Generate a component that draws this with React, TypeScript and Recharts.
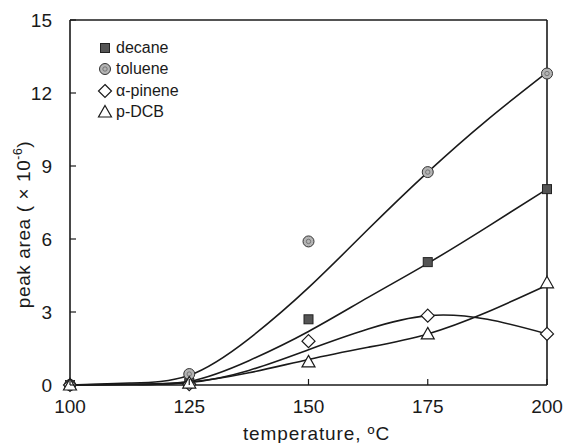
import { ComposedChart, Line, Scatter, XAxis, YAxis, ReferenceLine } from "recharts"

// measured points
const temps = [100, 125, 150, 175, 200]
const decane = [0, 0.08, 2.7, 5.05, 8.05]
const toluene = [0, 0.45, 5.9, 8.75, 12.8]
const pinene = [0, 0.03, 1.8, 2.85, 2.1]
const pdcb = [0, 0.08, 0.95, 2.1, 4.2]

// fitted curves
const fitTemps = [100, 112.5, 125, 137.5, 150, 162.5, 175, 187.5, 200]
const decaneFit = [0, 0.03, 0.15, 1.0, 2.2, 3.6, 5.0, 6.5, 8.05]
const tolueneFit = [0, 0.08, 0.4, 1.9, 4.0, 6.4, 8.75, 10.9, 12.85]
const pineneFit = [0, 0.02, 0.1, 0.6, 1.45, 2.3, 2.85, 2.7, 2.1]
const pdcbFit = [0, 0.02, 0.12, 0.5, 1.05, 1.55, 2.1, 3.0, 4.1]

const xTicks = [100, 125, 150, 175, 200]
const yTicks = [0, 3, 6, 9, 12, 15]

const toXY = (xs: number[], ys: number[]) => xs.map((x, i) => ({ x, y: ys[i] }))

const FONT = "'Liberation Sans', Arial, sans-serif"
const INK = "#1a1a1a"

const SquareMark = ({ cx, cy }: any) => (
  <rect x={cx - 4.5} y={cy - 4.5} width={9} height={9} fill="#555" stroke="#222" strokeWidth={1} />
)
const CircleMark = ({ cx, cy }: any) => (
  <g>
    <circle cx={cx} cy={cy} r={5.5} fill="#b4b4b4" stroke="#333" strokeWidth={1} />
    <circle cx={cx} cy={cy} r={2.2} fill="none" stroke="#666" strokeWidth={0.8} />
  </g>
)
const DiamondMark = ({ cx, cy }: any) => (
  <path d={`M${cx},${cy - 6.5}L${cx + 6.5},${cy}L${cx},${cy + 6.5}L${cx - 6.5},${cy}Z`} fill="#fff" stroke={INK} strokeWidth={1.2} />
)
const TriangleMark = ({ cx, cy }: any) => (
  <path d={`M${cx},${cy - 6.5}L${cx + 6.5},${cy + 5}L${cx - 6.5},${cy + 5}Z`} fill="#fff" stroke={INK} strokeWidth={1.2} />
)

const legendItems = [
  { name: "decane", Mark: SquareMark },
  { name: "toluene", Mark: CircleMark },
  { name: "α-pinene", Mark: DiamondMark },
  { name: "p-DCB", Mark: TriangleMark },
]

const XTick = ({ x, y, payload }: any) => (
  <g>
    <line x1={x} x2={x} y1={y - 13} y2={y - 19} stroke={INK} strokeWidth={1.2} />
    <text x={x} y={y + 15} textAnchor="middle" fontSize={19} fontFamily={FONT} fill={INK}>
      {payload.value}
    </text>
  </g>
)

const YTick = ({ x, y, payload }: any) => (
  <g>
    <line x1={x + 18} x2={x + 24} y1={y} y2={y} stroke={INK} strokeWidth={1.2} />
    <text x={x} y={y + 7} textAnchor="end" fontSize={19} fontFamily={FONT} fill={INK}>
      {payload.value}
    </text>
  </g>
)

const YLabel = ({ viewBox }: any) => {
  const cx = 24
  const cy = viewBox.y + viewBox.height / 2 + 22
  return (
    <text x={cx} y={cy} transform={`rotate(-90 ${cx} ${cy})`} textAnchor="middle" fontSize={19} letterSpacing={0.6} fontFamily={FONT} fill={INK} dy={6}>
      peak area ( × 10<tspan dy={-8} fontSize={12}>-6</tspan><tspan dy={8}>)</tspan>
    </text>
  )
}

const XLabel = ({ viewBox }: any) => (
  <text x={viewBox.x + viewBox.width / 2 + 8} y={440} textAnchor="middle" fontSize={19} letterSpacing={0.9} fontFamily={FONT} fill={INK}>
    temperature, ºC
  </text>
)

export default function App() {
  return (
    <div style={{ position: "relative", width: 564, height: 443, background: "#fff" }}>
      <style>{"body{margin:0}"}</style>
      <ComposedChart width={564} height={443} margin={{ top: 20, right: 17, left: 18, bottom: 28 }}>
        <XAxis
          dataKey="x"
          type="number"
          domain={[100, 200]}
          ticks={xTicks}
          tickLine={false}
          tickSize={0}
          tickMargin={13}
          height={30}
          tick={<XTick />}
          axisLine={{ stroke: INK, strokeWidth: 1.6 }}
          label={<XLabel />}
        />
        <YAxis
          dataKey="y"
          type="number"
          domain={[0, 15]}
          ticks={yTicks}
          tickLine={false}
          tickSize={0}
          tickMargin={18}
          width={52}
          tick={<YTick />}
          axisLine={{ stroke: INK, strokeWidth: 1.6 }}
          label={<YLabel />}
        />
        <ReferenceLine y={15} stroke={INK} strokeWidth={1.6} />
        <ReferenceLine x={200} stroke={INK} strokeWidth={1.6} />
        <Line data={toXY(fitTemps, tolueneFit)} dataKey="y" type="natural" dot={false} stroke={INK} strokeWidth={1.6} isAnimationActive={false} />
        <Line data={toXY(fitTemps, decaneFit)} dataKey="y" type="natural" dot={false} stroke={INK} strokeWidth={1.6} isAnimationActive={false} />
        <Line data={toXY(fitTemps, pineneFit)} dataKey="y" type="natural" dot={false} stroke={INK} strokeWidth={1.6} isAnimationActive={false} />
        <Line data={toXY(fitTemps, pdcbFit)} dataKey="y" type="natural" dot={false} stroke={INK} strokeWidth={1.6} isAnimationActive={false} />
        <Scatter data={toXY(temps, decane)} dataKey="y" shape={SquareMark} isAnimationActive={false} />
        <Scatter data={toXY(temps, toluene)} dataKey="y" shape={CircleMark} isAnimationActive={false} />
        <Scatter data={toXY(temps, pinene)} dataKey="y" shape={DiamondMark} isAnimationActive={false} />
        <Scatter data={toXY(temps, pdcb)} dataKey="y" shape={TriangleMark} isAnimationActive={false} />
      </ComposedChart>
      <div style={{ position: "absolute", left: 97, top: 37, fontFamily: FONT, fontSize: 16, color: INK }}>
        {legendItems.map(({ name, Mark }) => (
          <div key={name} style={{ display: "flex", alignItems: "center", height: 21.5 }}>
            <svg width={16} height={16} style={{ marginRight: 3 }}>
              <Mark cx={8} cy={8} />
            </svg>
            <span>{name}</span>
          </div>
        ))}
      </div>
    </div>
  )
}
